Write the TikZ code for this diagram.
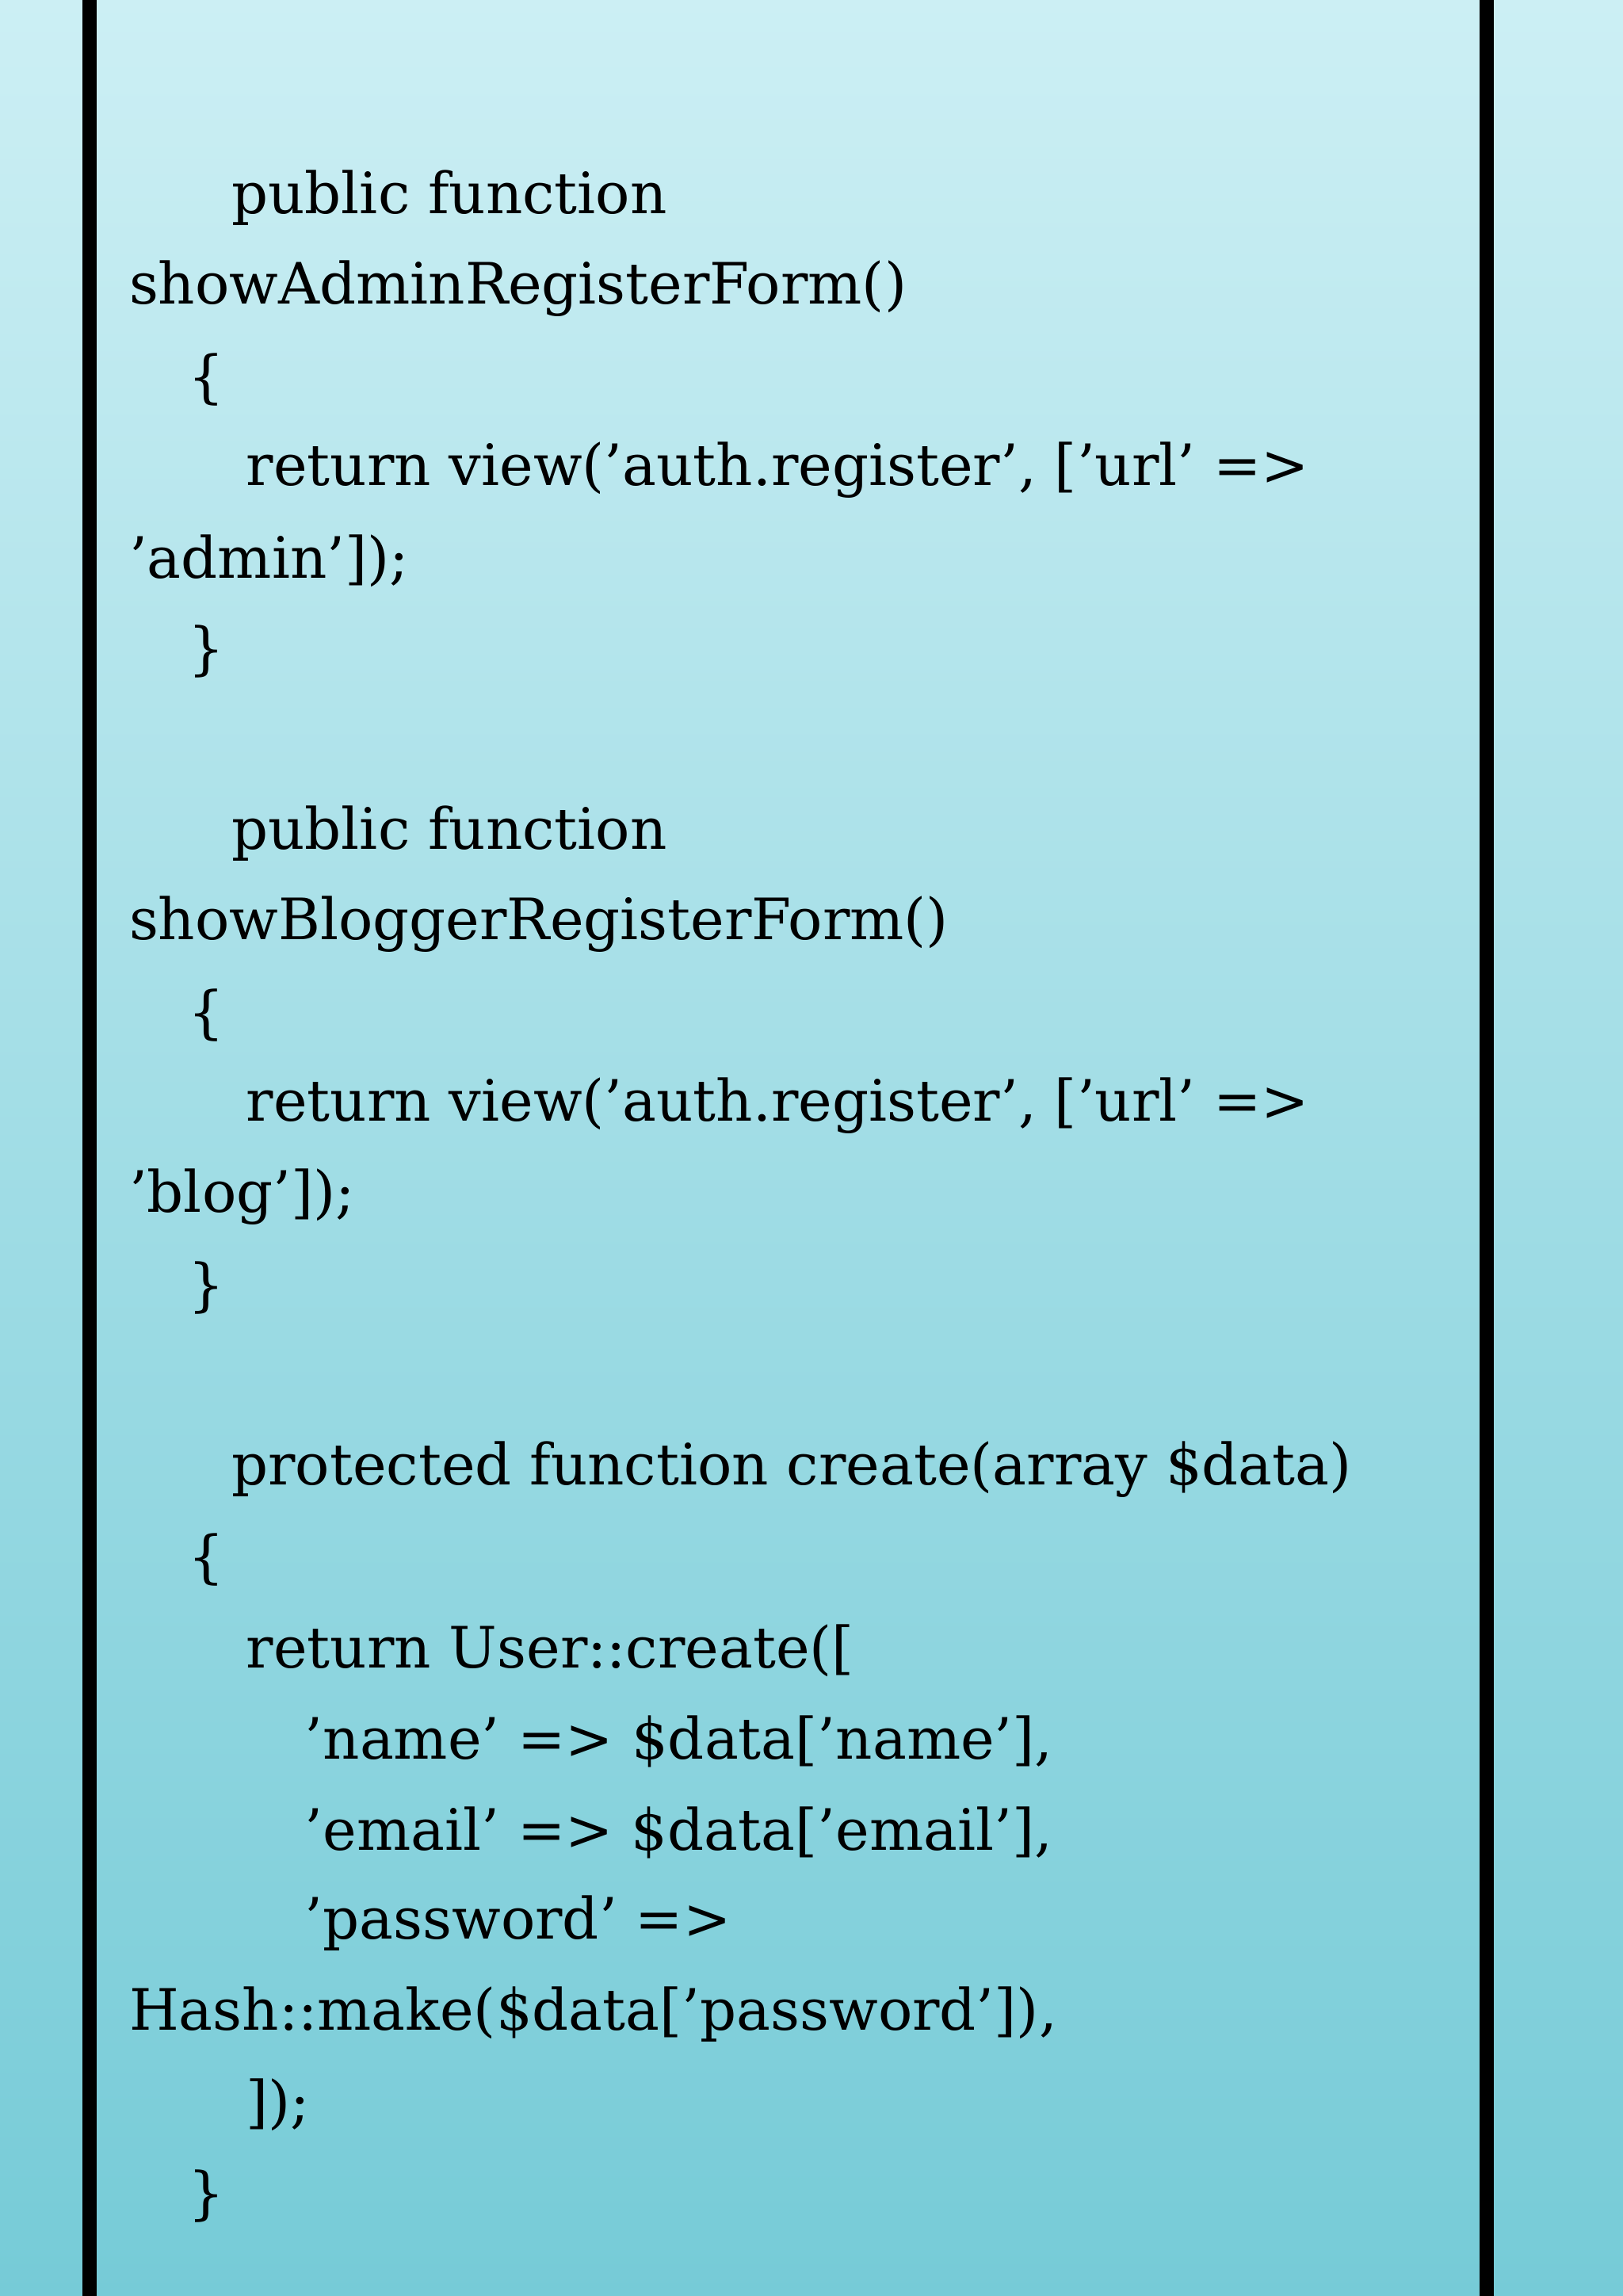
\documentclass[tikz,border=0pt]{standalone}
\usepackage{fontspec}
\defaultfontfeatures{}
\setmainfont{DejaVu Serif}[Ligatures=ResetAll]
\newcommand\sq{\char39\relax}
\begin{document}
\begin{tikzpicture}[x=1pt,y=1pt,
  code/.style={anchor=west,inner sep=0pt,font=\fontsize{36}{44}\selectfont,text=black},
  bar/.style={line width=9pt,black}]
\useasboundingbox (0,0) rectangle (1024,-1448.5);
\shade[top color={rgb,255:red,204;green,239;blue,244},bottom color={rgb,255:red,118;green,203;blue,215}] (0,0) rectangle (1024,-1448.5);
\coordinate (lt) at (56.4,0); \coordinate (lb) at (56.4,-1448.5);
\coordinate (rt) at (937.9,0); \coordinate (rb) at (937.9,-1448.5);
\draw[bar] (lt) -- (lb);
\draw[bar] (rt) -- (rb);
\def\s{57.3}
\node[code] (l1) at (146,-124.7) {public function};
\node[code] (l2) at (81.3,-124.7-\s) {showAdminRegisterForm()};
\node[code] (l3) at (118.3,-124.7-2*\s) {\{};
\node[code] (l4) at (155.2,-124.7-3*\s) {return view(\sq auth.register\sq, [\sq url\sq{} =>};
\node[code] (l5) at (81.3,-124.7-4*\s) {\sq admin\sq]);};
\node[code] (l6) at (118.3,-124.7-5*\s) {\}};
\node[code] (l7) at (146,-124.7-7*\s) {public function};
\node[code] (l8) at (81.3,-124.7-8*\s) {showBloggerRegisterForm()};
\node[code] (l9) at (118.3,-124.7-9*\s) {\{};
\node[code] (l10) at (155.2,-124.7-10*\s) {return view(\sq auth.register\sq, [\sq url\sq{} =>};
\node[code] (l11) at (81.3,-124.7-11*\s) {\sq blog\sq]);};
\node[code] (l12) at (118.3,-124.7-12*\s) {\}};
\node[code] (l13) at (146,-124.7-14*\s) {protected function create(array \$data)};
\node[code] (l14) at (118.3,-124.7-15*\s) {\{};
\node[code] (l15) at (155.2,-124.7-16*\s) {return User::create([};
\node[code] (l16) at (192.2,-124.7-17*\s) {\sq name\sq{} => \$data[\sq name\sq],};
\node[code] (l17) at (192.2,-124.7-18*\s) {\sq email\sq{} => \$data[\sq email\sq],};
\node[code] (l18) at (192.2,-124.7-19*\s) {\sq password\sq{} =>};
\node[code] (l19) at (81.3,-124.7-20*\s) {Hash::make(\$data[\sq password\sq]),};
\node[code] (l20) at (155.2,-124.7-21*\s) {]);};
\node[code] (l21) at (118.3,-124.7-22*\s) {\}};
\end{tikzpicture}
\end{document}
